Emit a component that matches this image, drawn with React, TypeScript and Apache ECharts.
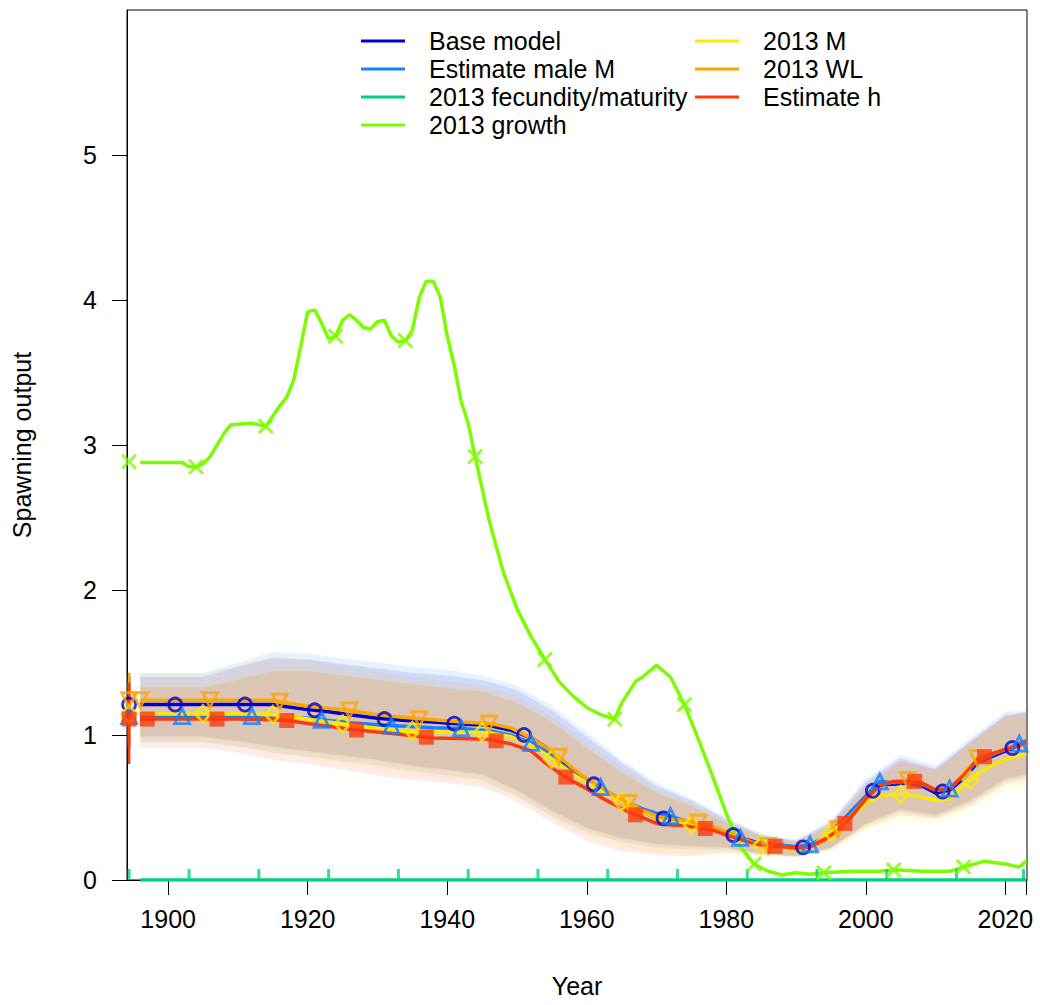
import React, { useEffect, useRef } from 'react';
import * as echarts from 'echarts';

// ---------- data ----------
const years = [1896, 1900, 1905, 1910, 1915, 1917, 1920, 1923, 1926, 1930, 1934, 1938, 1942, 1946, 1949, 1952, 1954, 1956, 1958, 1960, 1962, 1964, 1966, 1968, 1970, 1972, 1974, 1976, 1978, 1980, 1982, 1984, 1986, 1988, 1990, 1992, 1994, 1996, 1998, 2000, 2002, 2004, 2006, 2008, 2010, 2012, 2014, 2016, 2018, 2020, 2022, 2023];

const baseModel = [1.21, 1.21, 1.21, 1.21, 1.21, 1.195, 1.175, 1.16, 1.14, 1.115, 1.10, 1.09, 1.075, 1.065, 1.035, 0.98, 0.92, 0.84, 0.76, 0.69, 0.63, 0.57, 0.51, 0.47, 0.43, 0.42, 0.40, 0.375, 0.355, 0.33, 0.29, 0.265, 0.24, 0.24, 0.22, 0.23, 0.27, 0.36, 0.46, 0.57, 0.66, 0.66, 0.67, 0.65, 0.60, 0.62, 0.70, 0.81, 0.85, 0.89, 0.93, 0.95];
const estMaleM = [1.125, 1.13, 1.13, 1.13, 1.13, 1.125, 1.115, 1.10, 1.085, 1.07, 1.06, 1.05, 1.045, 1.03, 1.0, 0.945, 0.89, 0.81, 0.74, 0.69, 0.64, 0.58, 0.53, 0.49, 0.46, 0.44, 0.41, 0.385, 0.36, 0.33, 0.29, 0.26, 0.25, 0.24, 0.23, 0.245, 0.29, 0.38, 0.48, 0.58, 0.68, 0.67, 0.68, 0.66, 0.62, 0.63, 0.72, 0.82, 0.86, 0.90, 0.94, 0.96];
const m2013 = [1.145, 1.145, 1.145, 1.145, 1.14, 1.13, 1.11, 1.09, 1.07, 1.045, 1.025, 1.02, 1.02, 1.015, 0.99, 0.93, 0.87, 0.80, 0.73, 0.67, 0.62, 0.57, 0.51, 0.47, 0.43, 0.41, 0.39, 0.37, 0.35, 0.32, 0.28, 0.245, 0.23, 0.22, 0.21, 0.22, 0.30, 0.37, 0.44, 0.53, 0.58, 0.59, 0.59, 0.57, 0.55, 0.56, 0.65, 0.73, 0.79, 0.83, 0.86, 0.87];
const wl2013 = [1.24, 1.24, 1.24, 1.24, 1.24, 1.22, 1.20, 1.185, 1.17, 1.14, 1.12, 1.105, 1.09, 1.08, 1.05, 0.98, 0.92, 0.85, 0.77, 0.70, 0.64, 0.58, 0.53, 0.48, 0.44, 0.42, 0.41, 0.395, 0.37, 0.33, 0.29, 0.255, 0.235, 0.23, 0.215, 0.225, 0.27, 0.35, 0.45, 0.56, 0.65, 0.68, 0.69, 0.67, 0.62, 0.63, 0.73, 0.84, 0.87, 0.90, 0.93, 0.95];
const estH = [1.11, 1.11, 1.11, 1.11, 1.105, 1.10, 1.08, 1.06, 1.04, 1.02, 1.0, 0.98, 0.975, 0.97, 0.94, 0.89, 0.81, 0.74, 0.68, 0.63, 0.57, 0.52, 0.47, 0.43, 0.39, 0.38, 0.375, 0.36, 0.345, 0.31, 0.28, 0.25, 0.235, 0.23, 0.22, 0.23, 0.28, 0.34, 0.44, 0.56, 0.65, 0.68, 0.68, 0.67, 0.62, 0.63, 0.72, 0.83, 0.87, 0.90, 0.93, 0.95];

const fecYears = [1896, 2023];
const fecValues = [0, 0];

const growthYears = [1896, 1902, 1903, 1904, 1905, 1906, 1908, 1909, 1912, 1914, 1916, 1917, 1918, 1919, 1920, 1921, 1922, 1923, 1924, 1925, 1926, 1927, 1928, 1929, 1930, 1931, 1932, 1933, 1934, 1935, 1936, 1937, 1938, 1939, 1940, 1941, 1942, 1943, 1944, 1946, 1948, 1950, 1952, 1954, 1956, 1958, 1960, 1962, 1964, 1965, 1967, 1968, 1970, 1972, 1974, 1976, 1978, 1980, 1982, 1984, 1986, 1988, 1990, 1992, 1994, 1998, 2002, 2004, 2008, 2012, 2014, 2017, 2020, 2022, 2023];
const growthValues = [2.88, 2.88, 2.85, 2.85, 2.87, 2.92, 3.08, 3.14, 3.15, 3.13, 3.27, 3.33, 3.45, 3.68, 3.92, 3.93, 3.84, 3.73, 3.75, 3.86, 3.90, 3.86, 3.81, 3.80, 3.85, 3.86, 3.75, 3.71, 3.72, 3.79, 4.02, 4.13, 4.13, 4.02, 3.75, 3.55, 3.30, 3.15, 2.92, 2.48, 2.13, 1.87, 1.68, 1.52, 1.37, 1.27, 1.19, 1.14, 1.11, 1.22, 1.37, 1.40, 1.48, 1.40, 1.21, 0.97, 0.72, 0.46, 0.23, 0.11, 0.06, 0.035, 0.05, 0.04, 0.05, 0.06, 0.06, 0.07, 0.06, 0.06, 0.09, 0.13, 0.11, 0.09, 0.13];

// marker positions (staggered every 10 years per model)
const baseMarkYears = [1901, 1911, 1921, 1931, 1941, 1951, 1961, 1971, 1981, 1991, 2001, 2011, 2021];
const baseMarkVals = [1.21, 1.21, 1.17, 1.11, 1.078, 1.0, 0.66, 0.425, 0.31, 0.225, 0.615, 0.61, 0.91];
const maleMarkYears = [1902, 1912, 1922, 1932, 1942, 1952, 1962, 1972, 1982, 1992, 2002, 2012, 2022];
const maleMarkVals = [1.13, 1.13, 1.105, 1.065, 1.045, 0.945, 0.64, 0.44, 0.29, 0.245, 0.68, 0.63, 0.94];
const fecMarkYears = [1894.4, 1903, 1913, 1923, 1933, 1943, 1953, 1963, 1973, 1983, 1993, 2003, 2013, 2022.6];
const fecMarkVals = [0, 0, 0, 0, 0, 0, 0, 0, 0, 0, 0, 0, 0, 0];
const growthMarkYears = [1894.4, 1904, 1914, 1924, 1934, 1944, 1954, 1964, 1974, 1984, 1994, 2004, 2014];
const growthMarkVals = [2.885, 2.85, 3.13, 3.75, 3.72, 2.92, 1.52, 1.11, 1.21, 0.11, 0.05, 0.07, 0.09];
const mMarkYears = [1905, 1915, 1925, 1935, 1945, 1955, 1965, 1975, 1985, 1995, 2005, 2015];
const mMarkVals = [1.145, 1.14, 1.075, 1.03, 1.02, 0.835, 0.54, 0.38, 0.24, 0.33, 0.59, 0.69];
const wlMarkYears = [1896, 1906, 1916, 1926, 1936, 1946, 1956, 1966, 1976, 1986, 1996, 2006, 2016];
const wlMarkVals = [1.24, 1.24, 1.23, 1.17, 1.11, 1.08, 0.85, 0.53, 0.395, 0.235, 0.35, 0.69, 0.84];
const hMarkYears = [1897, 1907, 1917, 1927, 1937, 1947, 1957, 1967, 1977, 1987, 1997, 2007, 2017];
const hMarkVals = [1.11, 1.11, 1.10, 1.035, 0.985, 0.96, 0.71, 0.45, 0.355, 0.232, 0.39, 0.68, 0.85];

// uncertainty bands
const bandYears = [1896, 1900, 1905, 1910, 1915, 1920, 1925, 1930, 1935, 1940, 1945, 1950, 1955, 1960, 1965, 1970, 1975, 1980, 1985, 1990, 1995, 2000, 2005, 2010, 2015, 2020, 2023];
const baseUpper = [1.40, 1.40, 1.40, 1.47, 1.53, 1.52, 1.49, 1.46, 1.43, 1.41, 1.38, 1.31, 1.17, 0.99, 0.81, 0.65, 0.55, 0.42, 0.31, 0.27, 0.40, 0.68, 0.84, 0.77, 0.96, 1.14, 1.16];
const baseLower = [0.99, 0.99, 0.99, 0.96, 0.92, 0.89, 0.86, 0.83, 0.79, 0.76, 0.73, 0.62, 0.48, 0.36, 0.29, 0.25, 0.235, 0.225, 0.185, 0.165, 0.225, 0.39, 0.49, 0.45, 0.55, 0.70, 0.73];
const maleUpper = [1.43, 1.43, 1.43, 1.50, 1.57, 1.56, 1.53, 1.50, 1.47, 1.45, 1.41, 1.34, 1.20, 1.02, 0.83, 0.67, 0.56, 0.43, 0.32, 0.28, 0.41, 0.70, 0.86, 0.79, 0.98, 1.16, 1.17];
const maleLower = [0.95, 0.95, 0.95, 0.92, 0.88, 0.85, 0.82, 0.79, 0.75, 0.72, 0.69, 0.58, 0.44, 0.33, 0.26, 0.22, 0.21, 0.21, 0.18, 0.16, 0.22, 0.38, 0.47, 0.43, 0.53, 0.68, 0.71];
const mUpper = [1.35, 1.35, 1.35, 1.40, 1.46, 1.45, 1.42, 1.39, 1.36, 1.33, 1.31, 1.23, 1.10, 0.92, 0.75, 0.61, 0.52, 0.40, 0.30, 0.26, 0.37, 0.63, 0.80, 0.74, 0.93, 1.12, 1.14];
const mLower = [0.95, 0.95, 0.95, 0.92, 0.87, 0.84, 0.80, 0.77, 0.73, 0.70, 0.67, 0.57, 0.43, 0.31, 0.23, 0.19, 0.175, 0.18, 0.16, 0.15, 0.20, 0.34, 0.41, 0.39, 0.48, 0.62, 0.64];
const wlUpper = [1.42, 1.42, 1.42, 1.48, 1.54, 1.52, 1.48, 1.44, 1.40, 1.37, 1.34, 1.27, 1.13, 0.95, 0.78, 0.63, 0.53, 0.41, 0.31, 0.27, 0.39, 0.66, 0.83, 0.76, 0.95, 1.13, 1.15];
const wlLower = [0.98, 0.98, 0.98, 0.95, 0.91, 0.88, 0.85, 0.82, 0.78, 0.75, 0.72, 0.61, 0.47, 0.35, 0.28, 0.24, 0.23, 0.22, 0.18, 0.16, 0.22, 0.38, 0.48, 0.44, 0.54, 0.69, 0.72];
const hUpper = [1.33, 1.33, 1.33, 1.38, 1.44, 1.44, 1.41, 1.38, 1.35, 1.32, 1.30, 1.22, 1.09, 0.91, 0.74, 0.60, 0.51, 0.39, 0.30, 0.26, 0.38, 0.65, 0.82, 0.76, 0.95, 1.13, 1.15];
const hLower = [0.91, 0.91, 0.91, 0.88, 0.83, 0.80, 0.76, 0.72, 0.69, 0.67, 0.64, 0.54, 0.40, 0.27, 0.20, 0.17, 0.165, 0.19, 0.17, 0.16, 0.21, 0.36, 0.45, 0.42, 0.51, 0.66, 0.69];

// virgin (unfished) estimates with intervals: base, male M, 2013 M, 2013 WL, est h
const virginYear = 1894.4;
const virginValue = [1.21, 1.13, 1.145, 1.24, 1.11];
const virginLow = [0.93, 0.90, 0.92, 0.97, 0.80];
const virginHigh = [1.41, 1.38, 1.36, 1.43, 1.36];

const xLabelValues = [1900, 1920, 1940, 1960, 1980, 2000, 2020];
const xTickValues = [1900, 1920, 1940, 1960, 1980, 2000, 2020, 2023];
const yTickValues = [0, 1, 2, 3, 4, 5];

// ---------- styling ----------
const FONT = "'Liberation Sans', Arial, sans-serif";
const C = {
  base: '#0000CD',
  male: '#1380FF',
  fec: '#00D27E',
  growth: '#7CFC00',
  m: '#FFE800',
  wl: '#FFA500',
  h: '#FF3A0A',
};

const X_PATH = 'path://M0,1.3 L1.3,0 L5,3.7 L8.7,0 L10,1.3 L6.3,5 L10,8.7 L8.7,10 L5,6.3 L1.3,10 L0,8.7 L3.7,5 Z';

function pairs(xs: number[], ys: number[]) {
  return xs.map((x, i) => [x, ys[i]]);
}

export default function App() {
  const ref = useRef<HTMLDivElement>(null);

  useEffect(() => {
    if (!ref.current) return;
    const chart = echarts.init(ref.current, null, { renderer: 'svg' });

    const lineModels = [
      { name: 'Base model', color: C.base, xs: years, ys: baseModel },
      { name: 'Estimate male M', color: C.male, xs: years, ys: estMaleM },
      { name: '2013 fecundity/maturity', color: C.fec, xs: fecYears, ys: fecValues },
      { name: '2013 growth', color: C.growth, xs: growthYears, ys: growthValues },
      { name: '2013 M', color: C.m, xs: years, ys: m2013 },
      { name: '2013 WL', color: C.wl, xs: years, ys: wl2013 },
      { name: 'Estimate h', color: C.h, xs: years, ys: estH },
    ];

    const bands = [
      { color: C.base, lo: baseLower, hi: baseUpper },
      { color: C.male, lo: maleLower, hi: maleUpper },
      { color: C.m, lo: mLower, hi: mUpper },
      { color: C.wl, lo: wlLower, hi: wlUpper },
      { color: C.h, lo: hLower, hi: hUpper },
    ];

    const virginColors = [C.base, C.male, C.m, C.wl, C.h];
    const virginSymbols: any[] = [
      { symbol: 'circle', size: 13, rotate: 0, hollow: true },
      { symbol: 'triangle', size: 15, rotate: 0, hollow: true },
      { symbol: 'diamond', size: [15, 17], rotate: 0, hollow: true },
      { symbol: 'triangle', size: 15, rotate: 180, hollow: true },
      { symbol: 'rect', size: 15, rotate: 0, hollow: false },
    ];

    const markers: any[] = [
      { color: C.base, xs: baseMarkYears, ys: baseMarkVals, ...virginSymbols[0] },
      { color: C.male, xs: maleMarkYears, ys: maleMarkVals, ...virginSymbols[1] },
      { color: C.fec, xs: fecMarkYears, ys: fecMarkVals, symbol: 'rect', size: [3, 11], rotate: 0, hollow: false, offset: [0, -5.5] },
      { color: C.growth, xs: growthMarkYears, ys: growthMarkVals, symbol: X_PATH, size: 16, rotate: 0, hollow: false },
      { color: C.m, xs: mMarkYears, ys: mMarkVals, ...virginSymbols[2] },
      { color: C.wl, xs: wlMarkYears, ys: wlMarkVals, ...virginSymbols[3] },
      { color: C.h, xs: hMarkYears, ys: hMarkVals, ...virginSymbols[4] },
    ];

    const series: any[] = [];

    bands.forEach((b, k) => {
      series.push({
        type: 'custom',
        name: 'band' + k,
        silent: true,
        data: [[bandYears[0], b.lo[0]]],
        renderItem: (_params: any, api: any) => {
          const pts: number[][] = [];
          for (let i = 0; i < bandYears.length; i++) pts.push(api.coord([bandYears[i], b.hi[i]]));
          for (let i = bandYears.length - 1; i >= 0; i--) pts.push(api.coord([bandYears[i], b.lo[i]]));
          return {
            type: 'polygon',
            shape: { points: pts },
            style: { fill: b.color, opacity: 0.1, stroke: 'none' },
          };
        },
        z: 1,
      });
    });

    virginColors.forEach((col, k) => {
      series.push({
        type: 'line',
        name: 'virgin' + k,
        silent: true,
        symbol: 'none',
        data: [[virginYear, virginLow[k]], [virginYear, virginHigh[k]]],
        lineStyle: { color: col, width: 2.5 },
        itemStyle: { color: col },
        z: 3,
      });
    });

    lineModels.forEach((m) => {
      series.push({
        type: 'line',
        name: m.name,
        silent: true,
        symbol: 'none',
        data: pairs(m.xs, m.ys),
        lineStyle: { color: m.color, width: 3.5 },
        itemStyle: { color: m.color },
        z: 3,
      });
    });

    const addMarkers = (mk: any, data: number[][], nm: string) => {
      series.push({
        type: 'scatter',
        name: nm,
        silent: true,
        symbol: mk.symbol,
        symbolSize: mk.size,
        symbolRotate: mk.rotate,
        symbolOffset: mk.offset || [0, 0],
        data,
        itemStyle: mk.hollow
          ? { color: 'rgba(255,255,255,0)', borderColor: mk.color, borderWidth: 2.8 }
          : { color: mk.color, borderWidth: 0 },
        z: 4,
      });
    };

    virginColors.forEach((col, k) => {
      addMarkers({ ...virginSymbols[k], color: col }, [[virginYear, virginValue[k]]], 'virginpt' + k);
    });
    markers.forEach((mk, k) => addMarkers(mk, pairs(mk.xs, mk.ys), 'pts' + k));

    const legendText = { fontSize: 25, fontFamily: FONT, color: '#000', lineHeight: 28, padding: [0, 0, 0, 19] };
    const legendCommon = {
      top: 27,
      orient: 'vertical',
      icon: 'rect',
      itemWidth: 44,
      itemHeight: 3,
      itemGap: 0,
      padding: 0,
      selectedMode: false,
      textStyle: legendText,
    };

    chart.setOption({
      animation: false,
      backgroundColor: '#fff',
      grid: {
        left: 127,
        right: 13,
        top: 10,
        bottom: 125,
        show: true,
        borderColor: '#000',
        borderWidth: 1,
        backgroundColor: 'transparent',
      },
      legend: [
        { ...legendCommon, left: 361, data: ['Base model', 'Estimate male M', '2013 fecundity/maturity', '2013 growth'] },
        { ...legendCommon, left: 695, data: ['2013 M', '2013 WL', 'Estimate h'] },
      ],
      xAxis: {
        type: 'value',
        min: 1894.1,
        max: 2023.1,
        name: 'Year',
        nameLocation: 'middle',
        nameGap: 93,
        nameTextStyle: { fontSize: 25, fontFamily: FONT, color: '#000' },
        axisLine: { show: true, onZero: false, lineStyle: { color: '#000', width: 1 } },
        axisTick: { show: true, length: 15, lineStyle: { color: '#000', width: 1 }, customValues: xTickValues },
        axisLabel: {
          fontSize: 25, fontFamily: FONT, color: '#000', margin: 26,
          customValues: xLabelValues,
          formatter: (v: number) => String(Math.round(v)),
        },
        splitLine: { show: false },
      },
      yAxis: {
        type: 'value',
        min: 0,
        max: 6,
        name: 'Spawning output',
        nameLocation: 'middle',
        nameGap: 93,
        nameRotate: 90,
        nameTextStyle: { fontSize: 25, fontFamily: FONT, color: '#000' },
        axisLine: { show: true, lineStyle: { color: '#000', width: 1 } },
        axisTick: { show: true, length: 15, lineStyle: { color: '#000', width: 1 }, customValues: yTickValues },
        axisLabel: {
          fontSize: 25, fontFamily: FONT, color: '#000', margin: 30,
          customValues: yTickValues,
          formatter: (v: number) => String(Math.round(v)),
        },
        splitLine: { show: false },
      },
      series,
    });

    return () => chart.dispose();
  }, []);

  return (
    <div
      ref={ref}
      style={{ position: 'absolute', left: 0, top: 0, width: 1040, height: 1005, background: '#fff' }}
    />
  );
}
